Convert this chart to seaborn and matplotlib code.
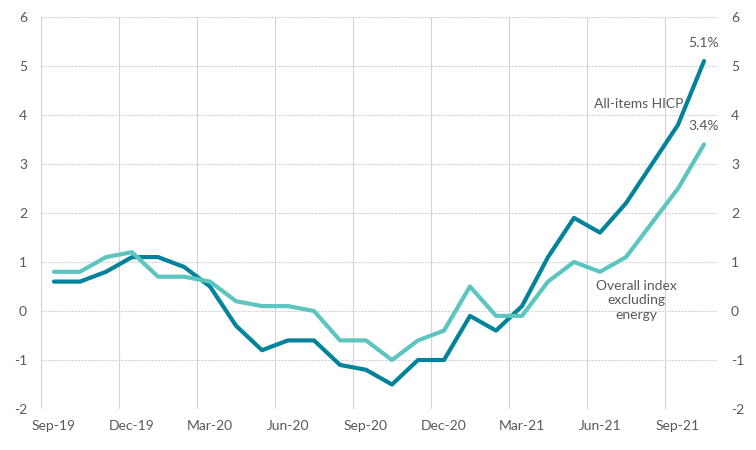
import matplotlib
matplotlib.use("Agg")
import matplotlib.pyplot as plt
import seaborn as sns
import pandas as pd
import numpy as np

months = ["Sep-19", "Oct-19", "Nov-19", "Dec-19", "Jan-20", "Feb-20", "Mar-20", "Apr-20",
          "May-20", "Jun-20", "Jul-20", "Aug-20", "Sep-20", "Oct-20", "Nov-20", "Dec-20",
          "Jan-21", "Feb-21", "Mar-21", "Apr-21", "May-21", "Jun-21", "Jul-21", "Aug-21",
          "Sep-21", "Oct-21"]
hicp = [0.6, 0.6, 0.8, 1.1, 1.1, 0.9, 0.5, -0.3, -0.8, -0.6, -0.6, -1.1, -1.2, -1.5,
        -1.0, -1.0, -0.1, -0.4, 0.1, 1.1, 1.9, 1.6, 2.2, 3.0, 3.8, 5.1]
excl_energy = [0.8, 0.8, 1.1, 1.2, 0.7, 0.7, 0.6, 0.2, 0.1, 0.1, 0.0, -0.6, -0.6, -1.0,
               -0.6, -0.4, 0.5, -0.1, -0.1, 0.6, 1.0, 0.8, 1.1, 1.8, 2.5, 3.4]
series_names = ["All-items HICP", "Overall index excluding energy"]
yticks = [-2, -1, 0, 1, 2, 3, 4, 5, 6]

dark = "#00839b"
light = "#5cc5bf"
txt = "#595959"
grid = "#d4d4d4"

sns.set_style("white")
plt.rcParams["font.family"] = ["Lato", "DejaVu Sans"]

n = len(months)
df = pd.DataFrame({
    "x": list(range(n)) * 2,
    "value": hicp + excl_energy,
    "series": [series_names[0]] * n + [series_names[1]] * n,
})

fig = plt.figure(figsize=(7.56, 4.5), dpi=100)
ax = fig.add_axes([41 / 756, 1 - 409 / 450, (717 - 41) / 756, (409 - 17) / 450])

sns.lineplot(data=df, x="x", y="value", hue="series",
             hue_order=[series_names[0], series_names[1]],
             palette={series_names[0]: dark, series_names[1]: light},
             linewidth=3, legend=False, ax=ax, solid_capstyle="round")

ax.set_xlim(-0.5, n - 0.5)
ax.set_ylim(-2, 6)
ax.set_yticks(yticks)
ax.set_yticklabels([str(v) for v in yticks])

major = list(range(0, n, 3))
ax.set_xticks(major)
ax.set_xticklabels([months[i] for i in major])
ax.set_xticks([i - 0.5 for i in range(0, n - 1, 3)], minor=True)

ax.grid(False)
ax.grid(axis="y", which="major", color=grid, linewidth=0.8, linestyle=(0, (2, 1)))
ax.grid(axis="x", which="minor", color=grid, linewidth=0.8)
ax.set_axisbelow(True)

for s in ["top", "right", "left", "bottom"]:
    ax.spines[s].set_visible(False)

ax.tick_params(axis="both", which="both", length=0, colors=txt, labelsize=10)
ax.tick_params(axis="y", labelright=True, pad=10)
ax.tick_params(axis="x", pad=8)
ax.set_xlabel("")
ax.set_ylabel("")

ax.text(n - 1, hicp[-1] + 0.25, "5.1%", color=txt, fontsize=10, ha="center", va="bottom")
ax.text(n - 1, excl_energy[-1] + 0.25, "3.4%", color=txt, fontsize=10, ha="center", va="bottom")
ax.text(22.5, 4.22, "All-items HICP", color=txt, fontsize=10, ha="center", va="center")
ax.text(22.4, 0.22, "Overall index\nexcluding\nenergy", color=txt, fontsize=10,
        ha="center", va="center", linespacing=1.25)

fig.savefig("out.png", dpi=100)
